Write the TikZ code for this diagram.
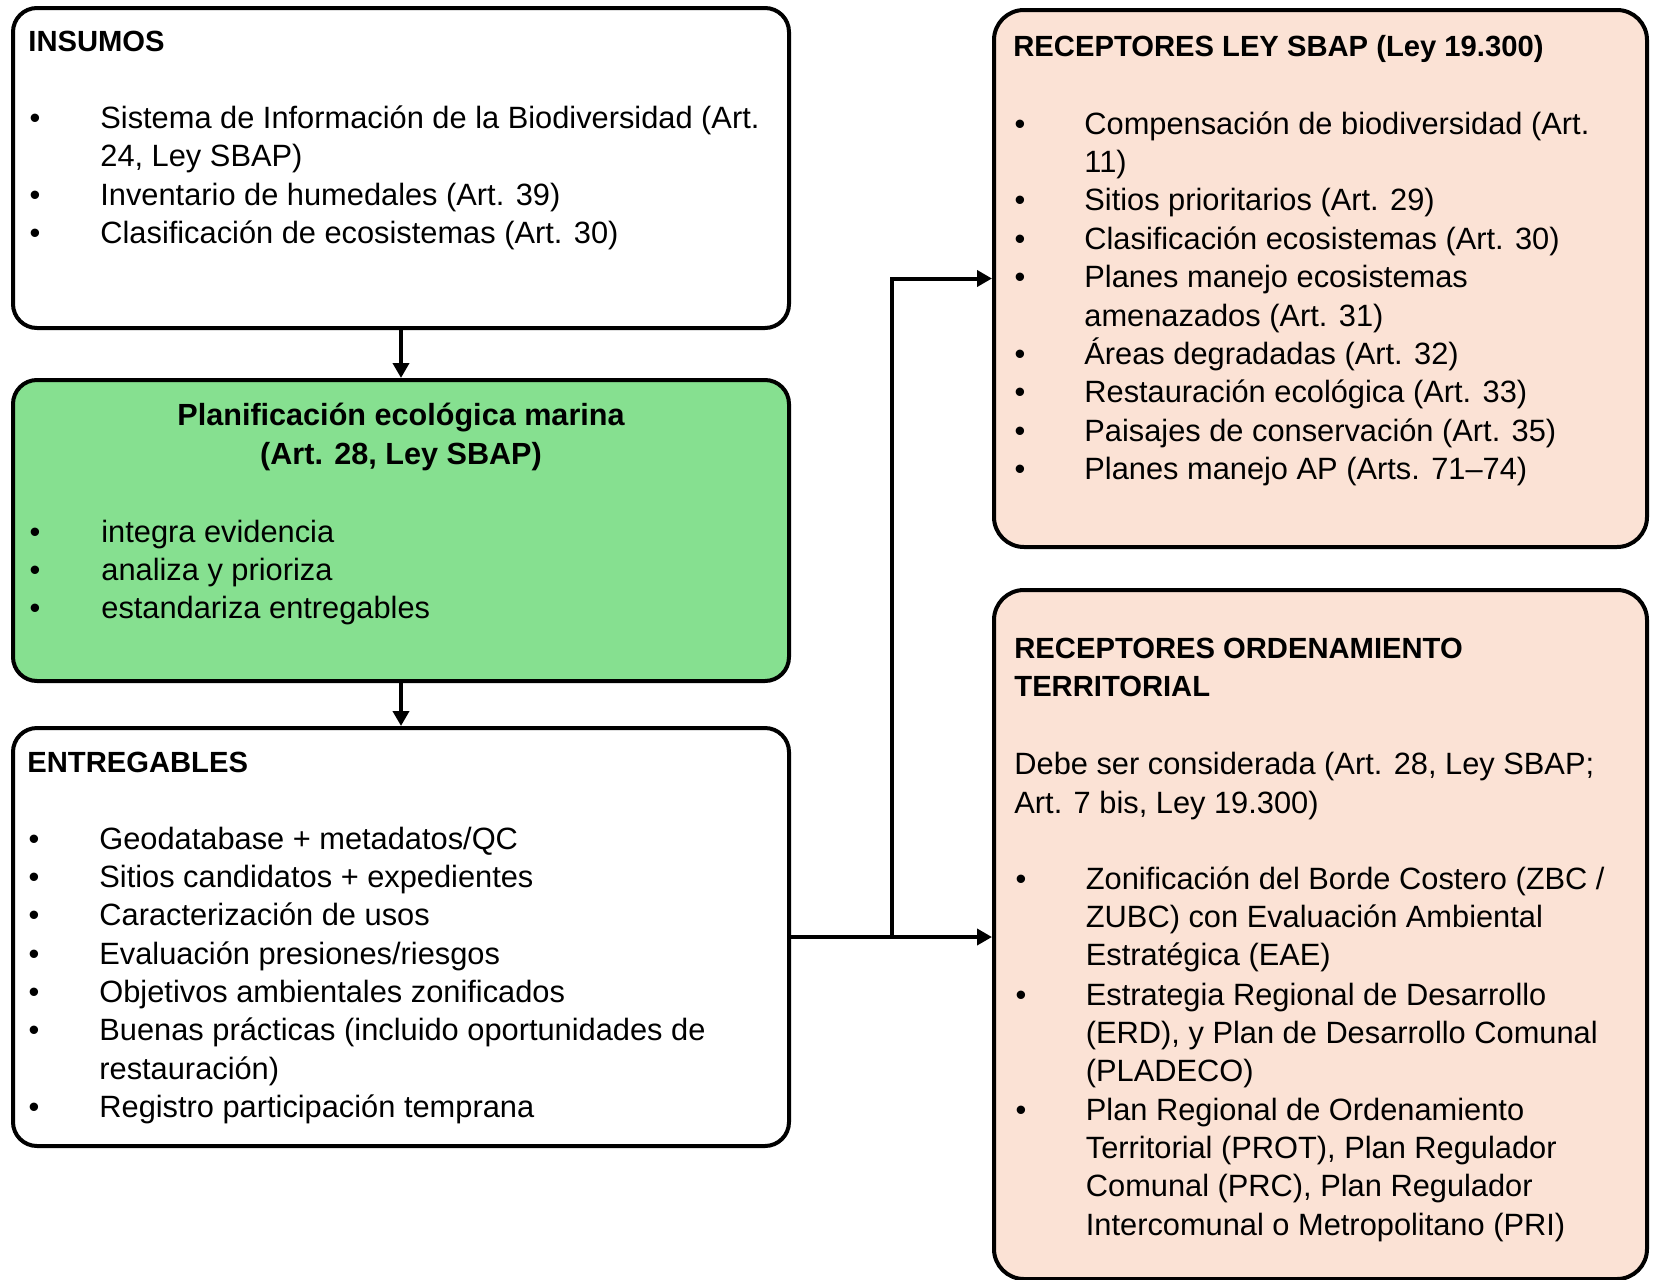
\documentclass[tikz,border=0pt]{standalone}
\usepackage{fontspec}
\setmainfont{Liberation Sans}
\usetikzlibrary{arrows.meta}
\definecolor{pgreen}{RGB}{134,224,144}
\definecolor{peach}{RGB}{251,226,213}
\newcommand\itemline[5]{\node[bul] (#1b) at (#2,#4) {•}; \node[txt] (#1) at (#3,#4) {#5};}
\newcommand\contline[4]{\node[txt] (#1) at (#2,#3) {#4};}
\begin{document}
\begin{tikzpicture}[x=0.5pt,y=-0.5pt,
  box/.style={draw=black, line width=2pt, rounded corners=12pt, inner sep=0pt},
  rbox/.style={box, rounded corners=15pt, fill=peach},
  txt/.style={anchor=base west, inner sep=0pt, font=\fontsize{15.4}{19.2}\selectfont},
  ttl/.style={anchor=base west, inner sep=0pt, font=\fontsize{14.6}{19.2}\selectfont\bfseries},
  ctl/.style={anchor=base, inner sep=0pt, font=\fontsize{15.3}{19.2}\selectfont\bfseries},
  bul/.style={anchor=base, inner sep=0pt, font=\fontsize{15.4}{19.2}\selectfont},
  conn/.style={draw=black, line width=2pt},
  arr/.style={conn, -{Triangle[length=7.5pt,width=8pt]}}]
\useasboundingbox (0,0) rectangle (1655,1280);

% boxes
\node[box, fill=white, minimum width=388pt, minimum height=160pt] (ins) at (401,168) {};
\node[box, fill=pgreen, minimum width=388pt, minimum height=150.5pt] (plan) at (401,530.5) {};
\node[box, fill=white, minimum width=388pt, minimum height=209pt] (ent) at (401,937) {};
\node[rbox, minimum width=326.5pt, minimum height=268.5pt] (sbap) at (1320.5,278.5) {};
\node[rbox, minimum width=326.5pt, minimum height=344.5pt] (orden) at (1320.5,934.5) {};

% INSUMOS
\node[ttl] (insT) at (28,51) {INSUMOS};
\itemline{ins1}{35}{100}{128}{Sistema de Información de la Biodiversidad (Art.}
\contline{ins1b2}{100}{166}{24, Ley SBAP)}
\itemline{ins2}{35}{100}{205}{Inventario de humedales (Art. 39)}
\itemline{ins3}{35}{100}{243}{Clasificación de ecosistemas (Art. 30)}

% Planificacion
\node[ctl] (planT1) at (401,425) {Planificación ecológica marina};
\node[ctl] (planT2) at (401,464.5) {(Art. 28, Ley SBAP)};
\itemline{pl1}{35}{101}{542}{integra evidencia}
\itemline{pl2}{35}{101}{580}{analiza y prioriza}
\itemline{pl3}{35}{101}{618}{estandariza entregables}

% ENTREGABLES
\node[ttl] (entT) at (27,772) {ENTREGABLES};
\itemline{en1}{34}{99}{849.5}{Geodatabase + metadatos/QC}
\itemline{en2}{34}{99}{887.5}{Sitios candidatos + expedientes}
\itemline{en3}{34}{99}{925.5}{Caracterización de usos}
\itemline{en4}{34}{99}{964.5}{Evaluación presiones/riesgos}
\itemline{en5}{34}{99}{1002.5}{Objetivos ambientales zonificados}
\itemline{en6}{34}{99}{1040.5}{Buenas prácticas (incluido oportunidades de}
\contline{en6b}{99}{1079.5}{restauración)}
\itemline{en7}{34}{99}{1117.5}{Registro participación temprana}

% RECEPTORES LEY SBAP
\node[ttl] (sbapT) at (1013,56) {RECEPTORES LEY SBAP (Ley 19.300)};
\itemline{sb1}{1020}{1084}{134}{Compensación de biodiversidad (Art.}
\contline{sb1b}{1084}{172}{11)}
\itemline{sb2}{1020}{1084}{210}{Sitios prioritarios (Art. 29)}
\itemline{sb3}{1020}{1084}{249}{Clasificación ecosistemas (Art. 30)}
\itemline{sb4}{1020}{1084}{287}{Planes manejo ecosistemas}
\contline{sb4b}{1084}{326}{amenazados (Art. 31)}
\itemline{sb5}{1020}{1084}{364}{Áreas degradadas (Art. 32)}
\itemline{sb6}{1020}{1084}{402.5}{Restauración ecológica (Art. 33)}
\itemline{sb7}{1020}{1084}{441.5}{Paisajes de conservación (Art. 35)}
\itemline{sb8}{1020}{1084}{479.5}{Planes manejo AP (Arts. 71–74)}

% RECEPTORES ORDENAMIENTO TERRITORIAL
\node[ttl] (ordT1) at (1014,658) {RECEPTORES ORDENAMIENTO};
\node[ttl] (ordT2) at (1014,696) {TERRITORIAL};
\contline{ordD1}{1014}{774}{Debe ser considerada (Art. 28, Ley SBAP;}
\contline{ordD2}{1014}{813}{Art. 7 bis, Ley 19.300)}
\itemline{or1}{1021}{1085.5}{889}{Zonificación del Borde Costero (ZBC /}
\contline{or1b}{1085.5}{927.5}{ZUBC) con Evaluación Ambiental}
\contline{or1c}{1085.5}{965.5}{Estratégica (EAE)}
\itemline{or2}{1021}{1085.5}{1005}{Estrategia Regional de Desarrollo}
\contline{or2b}{1085.5}{1043.5}{(ERD), y Plan de Desarrollo Comunal}
\contline{or2c}{1085.5}{1081.5}{(PLADECO)}
\itemline{or3}{1021}{1085.5}{1120.5}{Plan Regional de Ordenamiento}
\contline{or3b}{1085.5}{1158}{Territorial (PROT), Plan Regulador}
\contline{or3c}{1085.5}{1196.5}{Comunal (PRC), Plan Regulador}
\contline{or3d}{1085.5}{1235}{Intercomunal o Metropolitano (PRI)}

% connectors
\draw[arr] (ins.south) -- (plan.north);
\draw[arr] (plan.south) -- (ent.north);
\coordinate (j) at (892,937);
\draw[conn] (ent.east) -- (j);
\draw[arr] (j) |- (sbap.west);
\draw[arr] (j) -- (orden.west |- j);
\end{tikzpicture}
\end{document}
